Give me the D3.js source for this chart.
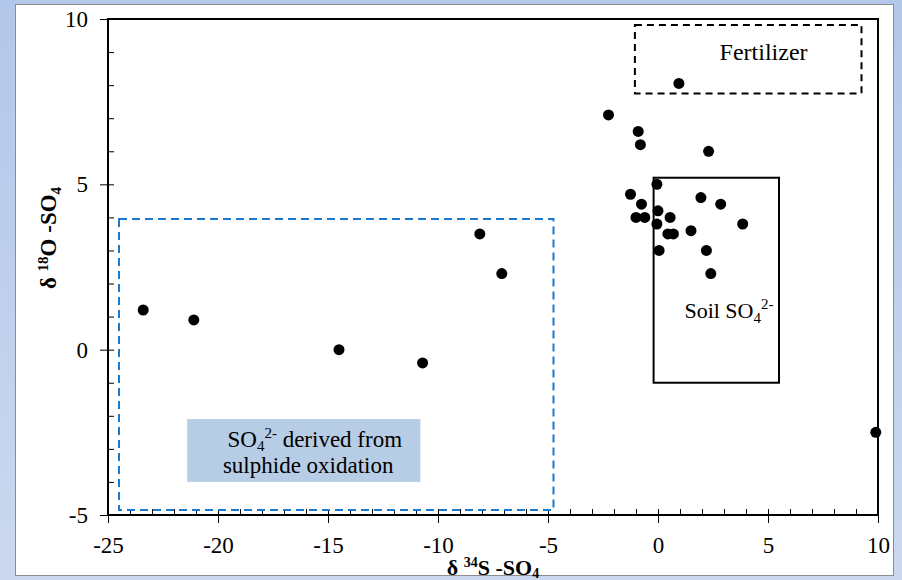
<!DOCTYPE html>
<html>
<head>
<meta charset="utf-8">
<script src="https://cdn.jsdelivr.net/npm/d3@7"></script>
<style>
  body { margin: 0; }
  svg { display: block; font-family: "Liberation Serif", "Times New Roman", serif; }
</style>
</head>
<body>
<section></section>
<script>
// d34S and d18O of SO4 samples
const s34 = [-23.4, -21.1, -14.5, -10.7, -8.1, -7.1,
  0.95, -2.25, -0.9, -0.8, 2.3, -0.05, -1.25, -0.75, -1.0, -0.6,
  0.0, -0.05, 0.55, 0.45, 0.7, 1.5, 1.95, 2.85, 3.85, 0.05, 2.2, 2.4, 9.9];
const o18 = [1.2, 0.9, 0.0, -0.4, 3.5, 2.3,
  8.05, 7.1, 6.6, 6.2, 6.0, 5.0, 4.7, 4.4, 4.0, 4.0,
  4.2, 3.8, 4.0, 3.5, 3.5, 3.6, 4.6, 4.4, 3.8, 3.0, 3.0, 2.3, -2.5];

const xTicks = [-25, -20, -15, -10, -5, 0, 5, 10];
const yTicks = [-5, 0, 5, 10];

// source regions [x0, x1, y0, y1]
const sulphideBox = [-24.5, -4.75, -4.85, 3.95];
const sulphideLabelBox = [-21.4, -10.8, -4.0, -2.1];
const fertilizerBox = [-1.05, 9.25, 7.75, 9.82];
const soilBox = [-0.2, 5.5, -1.0, 5.2];

const width = 902;
const height = 580;
const marginTop = 19;
const marginRight = 24;
const marginBottom = 65;
const marginLeft = 108;

const x = d3.scaleLinear()
    .domain([-25, 10])
    .range([marginLeft, width - marginRight]);

const y = d3.scaleLinear()
    .domain([-5, 10])
    .range([height - marginBottom, marginTop]);

const svg = d3.select("section")
    .append("svg")
    .attr("width", width)
    .attr("height", height)
    .attr("viewBox", [0, 0, width, height]);

// page background
const grad = svg.append("defs").append("linearGradient")
    .attr("id", "bg").attr("x1", 0).attr("y1", 0).attr("x2", 0).attr("y2", 1);
grad.append("stop").attr("offset", 0).attr("stop-color", "#b3c7ea");
grad.append("stop").attr("offset", 1).attr("stop-color", "#cbd8ef");
svg.append("rect").attr("width", width).attr("height", height).attr("fill", "url(#bg)");
svg.append("rect")
    .attr("x", 15.5).attr("y", 4.5).attr("width", 878).attr("height", 571)
    .attr("fill", "#fff").attr("stroke", "#8c8c8c").attr("stroke-width", 1);

// plot frame
svg.append("rect")
    .attr("x", x(-25)).attr("y", y(10))
    .attr("width", x(10) - x(-25)).attr("height", y(-5) - y(10))
    .attr("fill", "none").attr("stroke", "#000").attr("stroke-width", 2);

// minor ticks (inside)
svg.append("g")
    .attr("transform", `translate(0,${y(-5)})`)
    .call(d3.axisTop(x).ticks(35).tickSize(6).tickFormat(""))
    .call(g => g.select(".domain").remove())
    .call(g => g.selectAll("line").attr("stroke-width", 1));
svg.append("g")
    .attr("transform", `translate(${x(-25)},0)`)
    .call(d3.axisRight(y).ticks(15).tickSize(6).tickFormat(""))
    .call(g => g.select(".domain").remove())
    .call(g => g.selectAll("line").attr("stroke-width", 1));

// major ticks and labels (plain hyphen for minus, like the original)
svg.append("g")
    .attr("transform", `translate(0,${y(-5)})`)
    .call(d3.axisBottom(x).tickValues(xTicks).tickSize(8).tickPadding(14).tickFormat(d => String(d)))
    .attr("font-family", null).attr("font-size", 23)
    .call(g => g.select(".domain").remove())
    .call(g => g.selectAll("text").attr("fill", "#000"));
svg.append("g")
    .attr("transform", `translate(${x(-25)},0)`)
    .call(d3.axisLeft(y).tickValues(yTicks).tickSize(8).tickPadding(12).tickFormat(d => String(d)))
    .attr("font-family", null).attr("font-size", 23)
    .call(g => g.select(".domain").remove())
    .call(g => g.selectAll("text").attr("fill", "#000"));

// source regions
const boxRect = (g, b) => g
    .attr("x", x(b[0])).attr("y", y(b[3]))
    .attr("width", x(b[1]) - x(b[0])).attr("height", y(b[2]) - y(b[3]));

svg.append("rect").call(boxRect, sulphideLabelBox).attr("fill", "#b7cce5");
svg.append("rect").call(boxRect, sulphideBox)
    .attr("fill", "none").attr("stroke", "#1b7ad0").attr("stroke-width", 2)
    .attr("stroke-dasharray", "8,5");
svg.append("rect").call(boxRect, fertilizerBox)
    .attr("fill", "none").attr("stroke", "#000").attr("stroke-width", 2)
    .attr("stroke-dasharray", "7,5");
svg.append("rect").call(boxRect, soilBox)
    .attr("fill", "none").attr("stroke", "#000").attr("stroke-width", 2);

// region labels
svg.append("text")
    .attr("x", x(4.8)).attr("y", y(8.75))
    .attr("text-anchor", "middle").attr("font-size", 24)
    .text("Fertilizer");

const soil = svg.append("text")
    .attr("x", x(1.2)).attr("y", y(0.95))
    .attr("font-size", 22);
soil.append("tspan").text("Soil SO");
soil.append("tspan").attr("font-size", 15).attr("dy", 5).text("4");
soil.append("tspan").attr("font-size", 15).attr("dy", -14).text("2-");

const sul = svg.append("text")
    .attr("font-size", 23).attr("text-anchor", "middle");
const sul1 = sul.append("tspan").attr("x", x(-15.6)).attr("y", y(-2.93));
sul1.append("tspan").text("SO");
sul1.append("tspan").attr("font-size", 15).attr("dy", 4).text("4");
sul1.append("tspan").attr("font-size", 15).attr("dy", -13).text("2-");
sul1.append("tspan").attr("dy", 9).text(" derived from");
sul.append("tspan").attr("x", x(-15.9)).attr("y", y(-3.72)).text("sulphide oxidation");

// points
svg.append("g")
    .selectAll("circle")
    .data(s34.map((d, i) => [d, o18[i]]))
    .join("circle")
    .attr("cx", d => x(d[0]))
    .attr("cy", d => y(d[1]))
    .attr("r", 5.5)
    .attr("fill", "#000");

// axis titles
const xt = svg.append("text")
    .attr("x", (x(-25) + x(10)) / 2).attr("y", 575)
    .attr("text-anchor", "middle").attr("font-size", 22).attr("font-weight", "bold");
xt.append("tspan").text("δ ");
xt.append("tspan").attr("font-size", 14).attr("dy", -8).text("34");
xt.append("tspan").attr("dy", 8).text("S -SO");
xt.append("tspan").attr("font-size", 14).attr("dy", 3).text("4");

const yt = svg.append("text")
    .attr("transform", "translate(56,238) rotate(-90)")
    .attr("text-anchor", "middle").attr("font-size", 23).attr("font-weight", "bold");
yt.append("tspan").text("δ ");
yt.append("tspan").attr("font-size", 15).attr("dy", -8).text("18");
yt.append("tspan").attr("dy", 8).text("O -SO");
yt.append("tspan").attr("font-size", 15).attr("dy", 5).text("4");
</script>
</body>
</html>
